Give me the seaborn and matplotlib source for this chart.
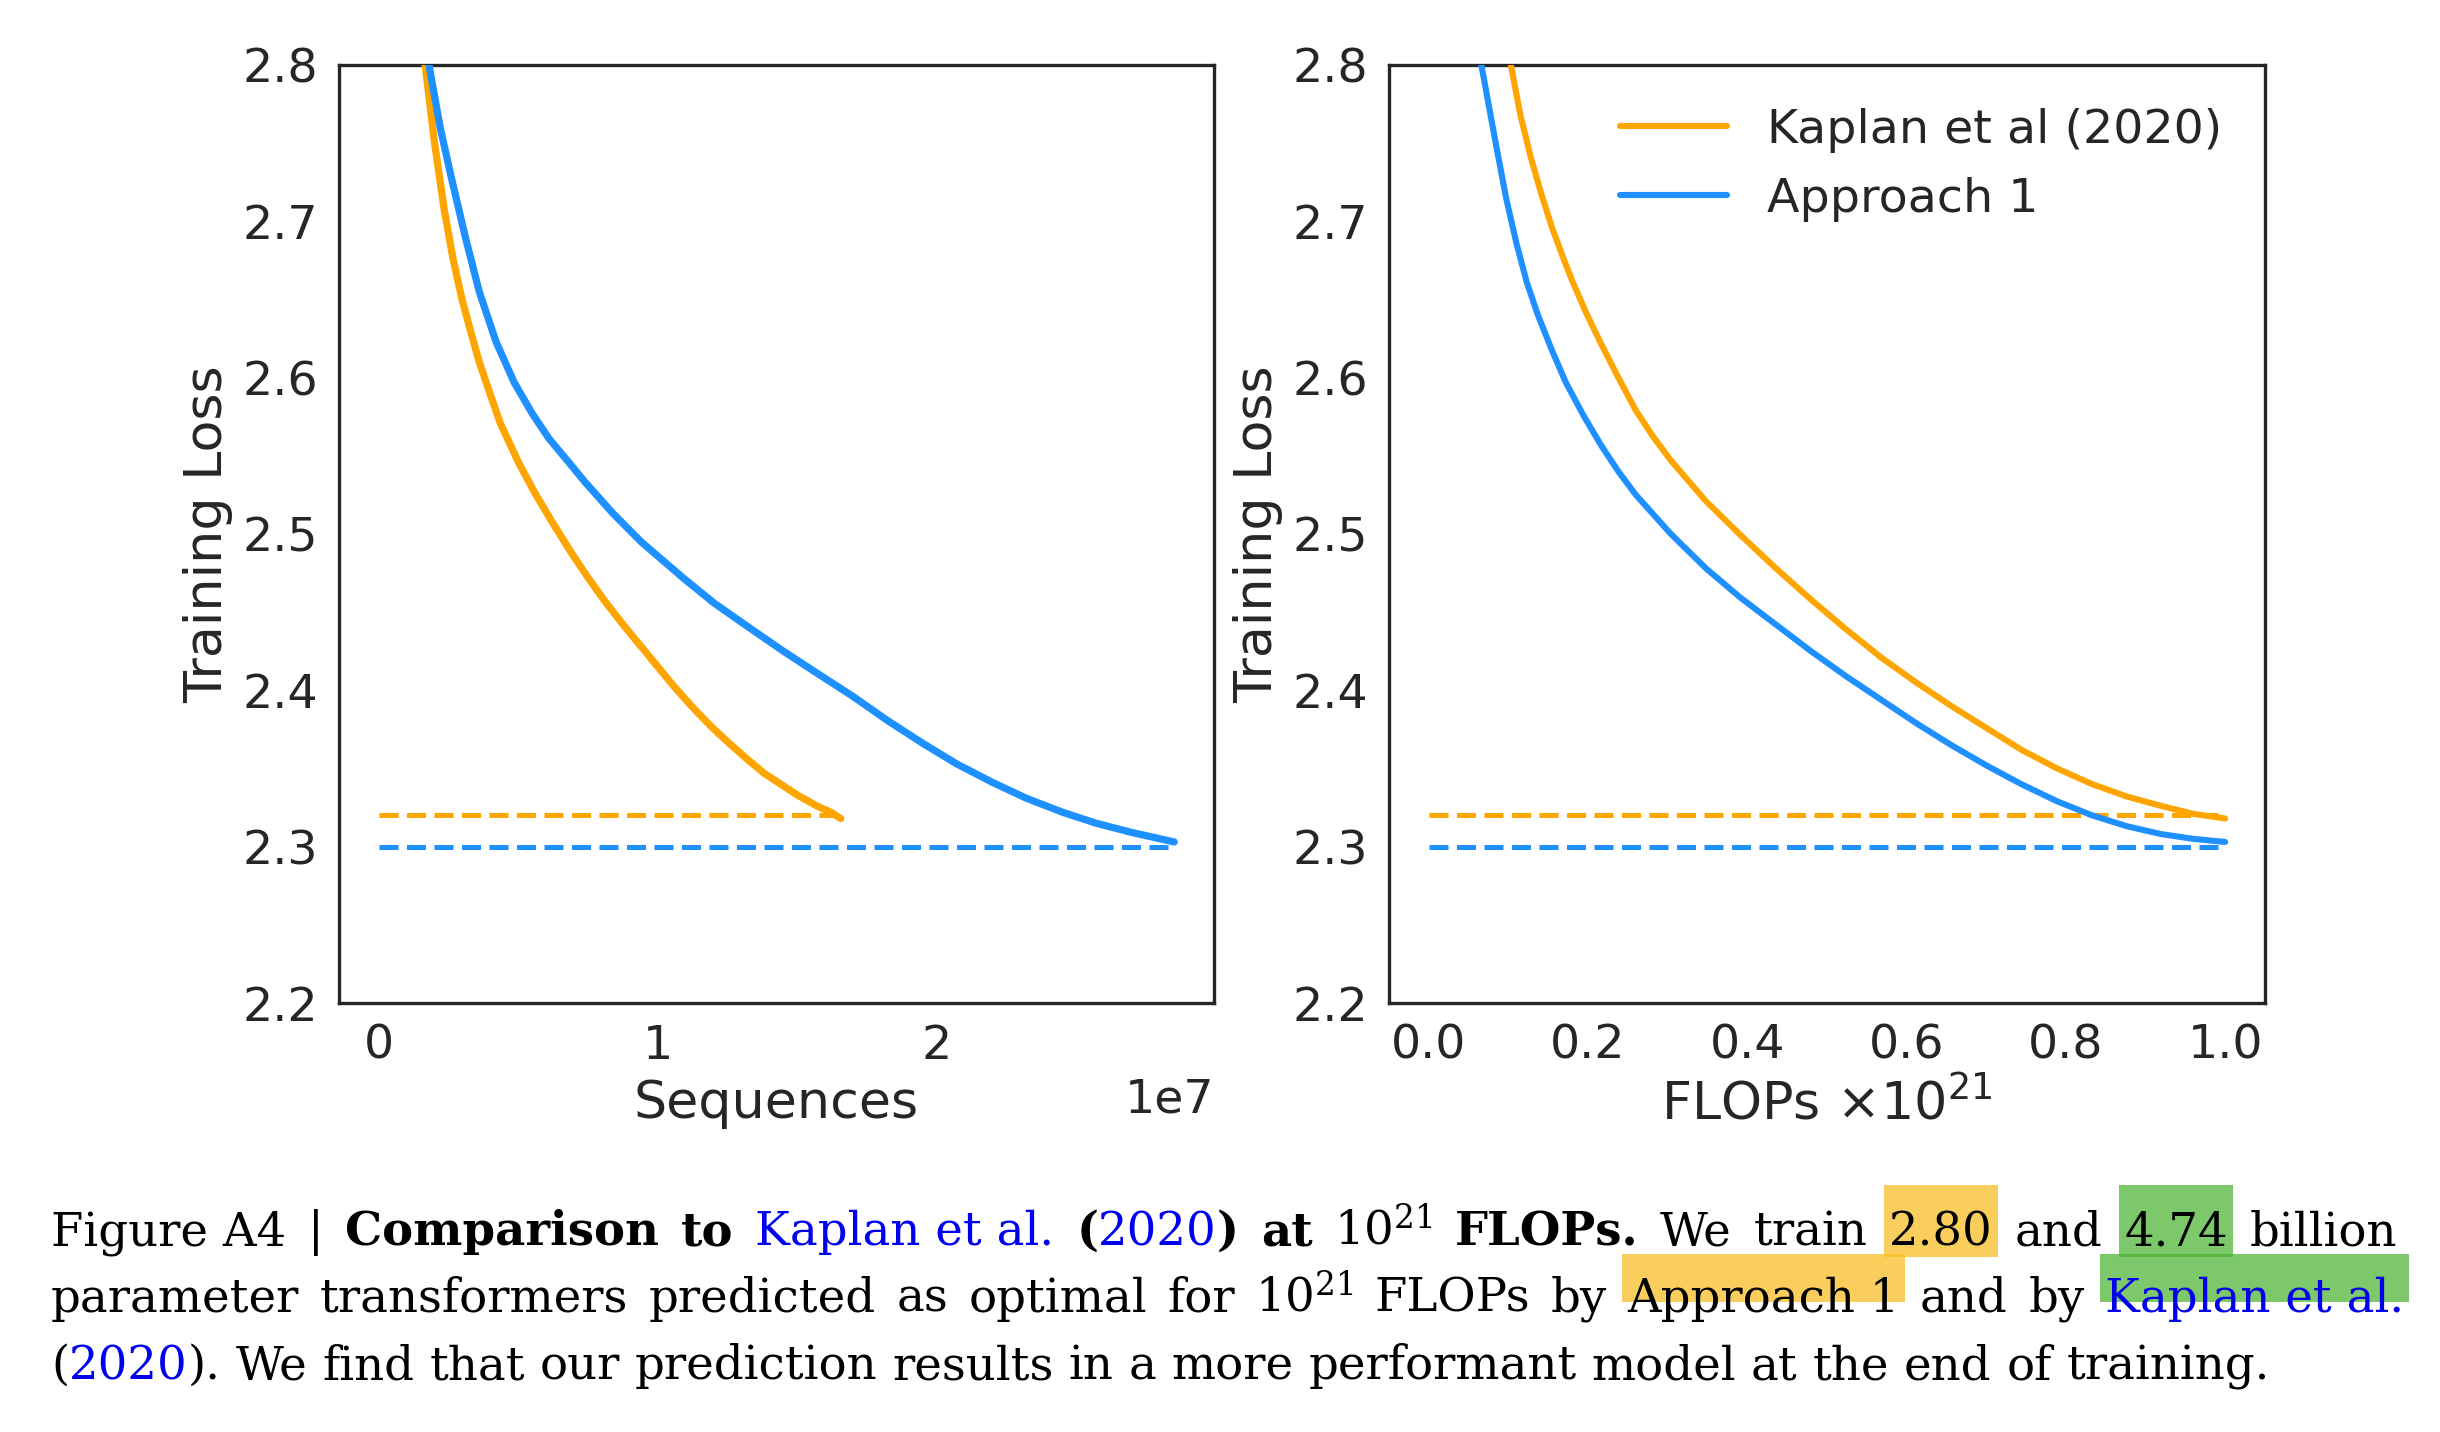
import numpy as np
import pandas as pd
import matplotlib
matplotlib.use("Agg")
import matplotlib.pyplot as plt
import seaborn as sns
from matplotlib.transforms import IdentityTransform
from matplotlib.patches import Rectangle

# ---------------- data ----------------
series_labels = ["Kaplan et al (2020)", "Approach 1"]
series_colors = ["#FFA500", "#1E90FF"]

# left panel: training sequences (units of 1e7)
seq_kaplan = [0.15, 0.166, 0.2, 0.234, 0.265, 0.297, 0.33, 0.36, 0.4, 0.435, 0.5, 0.56,
              0.62, 0.69, 0.75, 0.81, 0.88, 0.94, 1.0, 1.06, 1.12, 1.19, 1.25, 1.32,
              1.38, 1.44, 1.5, 1.57, 1.62, 1.655]
loss_seq_kaplan = [2.84, 2.80, 2.75, 2.708, 2.677, 2.651, 2.629, 2.61, 2.589, 2.571, 2.546, 2.526,
                   2.508, 2.488, 2.472, 2.457, 2.441, 2.428, 2.415, 2.402, 2.39, 2.377, 2.367, 2.356,
                   2.347, 2.34, 2.333, 2.326, 2.322, 2.318]

seq_approach1 = [0.15, 0.18, 0.22, 0.26, 0.31, 0.36, 0.42, 0.485, 0.55, 0.61, 0.68, 0.74,
                 0.84, 0.94, 1.09, 1.2, 1.32, 1.45, 1.57, 1.7, 1.82, 1.95, 2.07, 2.2,
                 2.32, 2.45, 2.57, 2.7, 2.85]
loss_seq_approach1 = [2.84, 2.80, 2.76, 2.728, 2.69, 2.655, 2.623, 2.597, 2.577, 2.561, 2.546, 2.533,
                      2.513, 2.495, 2.472, 2.456, 2.441, 2.425, 2.411, 2.396, 2.381, 2.366, 2.353, 2.341,
                      2.331, 2.322, 2.315, 2.309, 2.303]

# right panel: FLOPs (units of 1e21)
flops_kaplan = [0.095, 0.103, 0.115, 0.128, 0.141, 0.154, 0.167, 0.18, 0.198, 0.216, 0.238, 0.26,
                0.282, 0.304, 0.348, 0.392, 0.436, 0.48, 0.524, 0.568, 0.612, 0.656, 0.70, 0.744,
                0.789, 0.833, 0.877, 0.92, 0.96, 1.0]
loss_flops_kaplan = [2.84, 2.80, 2.768, 2.741, 2.718, 2.697, 2.679, 2.662, 2.641, 2.622, 2.60, 2.579,
                     2.562, 2.547, 2.521, 2.499, 2.478, 2.458, 2.439, 2.421, 2.405, 2.39, 2.376, 2.362,
                     2.35, 2.34, 2.332, 2.326, 2.321, 2.318]

flops_approach1 = [0.06, 0.066, 0.075, 0.084, 0.097, 0.11, 0.123, 0.137, 0.155, 0.172, 0.194, 0.216,
                   0.238, 0.26, 0.304, 0.348, 0.392, 0.436, 0.48, 0.524, 0.568, 0.612, 0.656, 0.70,
                   0.744, 0.789, 0.833, 0.877, 0.92, 0.96, 1.0]
loss_flops_approach1 = [2.84, 2.80, 2.775, 2.75, 2.715, 2.686, 2.661, 2.64, 2.617, 2.597, 2.576, 2.557,
                        2.54, 2.525, 2.5, 2.478, 2.459, 2.442, 2.425, 2.409, 2.394, 2.379, 2.365, 2.352,
                        2.34, 2.329, 2.32, 2.313, 2.308, 2.305, 2.303]

# predicted final losses (dashed lines)
final_losses = [2.32, 2.30]

y_ticks = [2.2, 2.3, 2.4, 2.5, 2.6, 2.7, 2.8]
x_label_left = "Sequences"
x_label_right = r"FLOPs $\times10^{21}$"
y_label = "Training Loss"

# ---------------- style ----------------
sns.set_theme(style="white")
TXT = "#262626"
plt.rcParams.update({
    "font.family": ["DejaVu Sans"],
    "axes.edgecolor": TXT,
    "axes.linewidth": 1.2,
    "axes.labelcolor": TXT,
    "xtick.color": TXT,
    "ytick.color": TXT,
    "text.color": TXT,
    "xtick.major.size": 0,
    "ytick.major.size": 0,
    "xtick.major.pad": 7.5,
    "ytick.major.pad": 7.5,
    "xtick.labelsize": 17.1,
    "ytick.labelsize": 17.1,
    "axes.labelsize": 18.8,
    "legend.fontsize": 17.1,
})

W, H, DPI = 2440, 1432, 200
fig = plt.figure(figsize=(W / DPI, H / DPI), dpi=DPI)
ax1 = fig.add_axes([339 / W, 1 - 1003 / H, (1214 - 339) / W, (1003 - 65) / H])
ax2 = fig.add_axes([1389 / W, 1 - 1003 / H, (2265 - 1389) / W, (1003 - 65) / H])

LW = 2.6


def panel(ax, xs_list, ys_list, scale, with_legend):
    for xs, ys, col, lab, fin in zip(xs_list, ys_list, series_colors, series_labels, final_losses):
        xs = np.asarray(xs) * scale
        df_dash = pd.DataFrame({"x": [0.0, xs.max()], "y": [fin, fin]})
        sns.lineplot(data=df_dash, x="x", y="y", ax=ax, color=col, lw=1.8,
                     linestyle=(0, (3.8, 1.7)), zorder=2)
    for xs, ys, col, lab in zip(xs_list, ys_list, series_colors, series_labels):
        xs = np.asarray(xs) * scale
        df = pd.DataFrame({"x": xs, "y": ys})
        sns.lineplot(data=df, x="x", y="y", ax=ax, color=col, lw=LW, label=lab,
                     sort=True, estimator=None, zorder=3)
    ax.set_ylim(2.2, 2.8)
    ax.set_yticks(y_ticks)
    ax.set_ylabel(y_label, labelpad=3.5)
    for s in ax.spines.values():
        s.set_visible(True)
        s.set_color(TXT)
    if with_legend:
        h, l = ax.get_legend_handles_labels()
        for hh in h:
            hh.set_linewidth(2.2)
        ax.legend(h, l, loc="upper right", frameon=False, handlelength=2.25,
                  handletextpad=0.85)
    else:
        lg = ax.get_legend()
        if lg is not None:
            lg.remove()


panel(ax1, [seq_kaplan, seq_approach1], [loss_seq_kaplan, loss_seq_approach1], 1e7, False)
ax1.set_xlabel(x_label_left, labelpad=3.5)
ax1.xaxis.get_offset_text().set_fontsize(17.1)

panel(ax2, [flops_kaplan, flops_approach1], [loss_flops_kaplan, loss_flops_approach1], 1.0, True)
ax2.set_xlabel(x_label_right, labelpad=3.5)
ax2.set_xticks([0.0, 0.2, 0.4, 0.6, 0.8, 1.0])

# ---------------- caption ----------------
BLUE = "#0000EE"
HL_OR = "#F7BC1F"
HL_GR = "#4AB330"
SERIF = "DejaVu Serif"

# tokens: (text, weight, color, highlight, glue_before)
line1 = [("Figure A4", "normal", "black", None, False),
         ("|", "normal", "black", None, True),
         ("Comparison", "bold", "black", None, True),
         ("to", "bold", "black", None, True),
         ("Kaplan et al.", "normal", BLUE, None, True),
         ("(", "bold", "black", None, True),
         ("2020", "normal", BLUE, None, False),
         (")", "bold", "black", None, False),
         ("at", "bold", "black", None, True),
         ("$10^{21}$", "normal", "black", None, True),
         ("FLOPs.", "bold", "black", None, True),
         ("We", "normal", "black", None, True),
         ("train", "normal", "black", None, True),
         ("2.80", "normal", "black", HL_OR, True),
         ("and", "normal", "black", None, True),
         ("4.74", "normal", "black", HL_GR, True),
         ("billion", "normal", "black", None, True)]
line2 = [(w, "normal", "black", None, i > 0) for i, w in enumerate(
    ["parameter", "transformers", "predicted", "as", "optimal", "for", "$10^{21}$", "FLOPs", "by"])]
line2 += [("Approach 1", "normal", "black", HL_OR, True),
          ("and", "normal", "black", None, True),
          ("by", "normal", "black", None, True),
          ("Kaplan et al.", "normal", BLUE, HL_GR, True)]
line3 = [("(", "normal", "black", None, False),
         ("2020", "normal", BLUE, None, False),
         (").", "normal", "black", None, False)]
line3 += [(w, "normal", "black", None, True) for w in
          "We find that our prediction results in a more performant model at the end of training.".split()]

renderer = fig.canvas.get_renderer()
ident = IdentityTransform()


def measure(s, fs, weight):
    t = fig.text(0, 0, s, fontsize=fs, fontweight=weight, family=SERIF,
                 math_fontfamily="dejavuserif", transform=ident)
    w = t.get_window_extent(renderer).width
    t.remove()
    return w


def space_w(fs):
    return measure("a a", fs, "normal") - measure("aa", fs, "normal")


def natural(line, fs):
    sw = space_w(fs)
    ws = [measure(t[0], fs, t[1]) for t in line]
    return sum(ws) + sw * sum(1 for t in line if t[4]), ws, sw


x0 = 51
fs0 = 17.0
n3, _, _ = natural(line3, fs0)
fs = fs0 * (2272 - x0) / n3

lines = [(line1, 1245, 2397, (1185, 1257)),
         (line2, 1312, 2404, (1254, 1302)),
         (line3, 1379, None, None)]
for line, base, right, box in lines:
    nat, ws, sw = natural(line, fs)
    nglue = sum(1 for t in line if t[4])
    gap = sw if right is None else sw + (right - x0 - nat) / nglue
    x = x0
    for (txt, wt, col, hl, glue), w in zip(line, ws):
        if glue:
            x += gap
        fig.text(x, H - base, txt, fontsize=fs, fontweight=wt, color=col, family=SERIF,
                 math_fontfamily="dejavuserif", transform=ident, va="baseline", ha="left",
                 zorder=5)
        if hl is not None:
            top, bot = box
            r = Rectangle((x - 5, H - bot), w + 10, bot - top, transform=ident,
                          facecolor=hl, alpha=0.72, edgecolor="none", zorder=1)
            fig.add_artist(r)
        x += w

fig.savefig("out.png", dpi=DPI)
